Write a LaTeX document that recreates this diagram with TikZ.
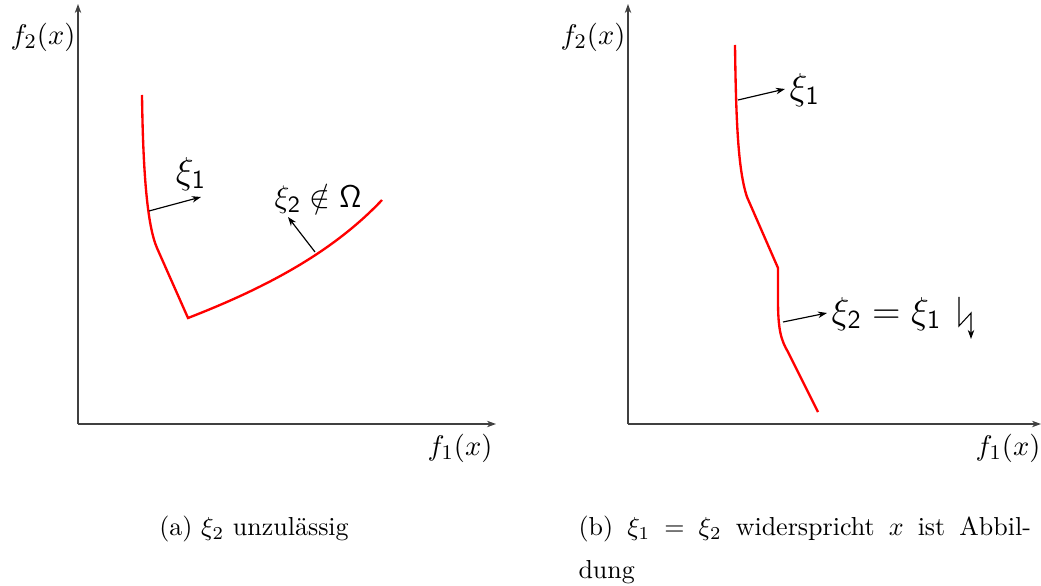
\documentclass[tikz,border=0pt]{standalone}
\usetikzlibrary{arrows.meta}
\begin{document}
\begin{tikzpicture}[x=0.3846pt,y=-0.3846pt,
  axis/.style={draw=black!75,line width=0.5pt,-{Stealth[length=3.5pt,width=2.5pt]}},
  curve/.style={draw=red,line width=0.9pt},
  ptr/.style={draw=black,line width=0.45pt,-{Stealth[length=3.5pt,width=2.5pt]}},
  lab/.style={inner sep=0pt,font=\Large},
  axlab/.style={inner sep=0pt,font=\fontsize{11}{13}\selectfont}]
\useasboundingbox (0,0) rectangle (1041,586);
% ---------- left plot ----------
\coordinate (o1) at (78,424);
\coordinate (ytop1) at (78,4);
\coordinate (xend1) at (496,424);
\draw[axis] (o1) -- (ytop1);
\draw[axis] (o1) -- (xend1);
\node[axlab] (f2a) at (43,37) {$f_2(x)$};
\node[axlab] (f1a) at (460,448) {$f_1(x)$};
\draw[curve] (142,95) .. controls (143,170) and (147,225) .. (157,248)
  -- (188,318) .. controls (260,290) and (330,255) .. (382,200);
\coordinate (p1) at (149,211);
\coordinate (q1) at (201,197);
\draw[ptr] (p1) -- (q1);
\node[lab] (xi1a) at (191,174) {$\xi_{\mathsf{1}}$};
\coordinate (p2) at (315,252);
\coordinate (q2) at (288,217);
\draw[ptr] (p2) -- (q2);
\node[inner sep=0pt,font=\fontsize{13}{15}\selectfont] (xi2a) at (318,199) {$\xi_{\mathsf{2}}\notin\mathsf{\Omega}$};
% ---------- right plot ----------
\coordinate (o2) at (628,424);
\coordinate (ytop2) at (628,4);
\coordinate (xend2) at (1041,424);
\draw[axis] (o2) -- (ytop2);
\draw[axis] (o2) -- (xend2);
\node[axlab] (f2b) at (593,37) {$f_2(x)$};
\node[axlab] (f1b) at (1008,448) {$f_1(x)$};
\draw[curve] (735,45) .. controls (736,120) and (738,170) .. (747,197)
  -- (778,268) -- (778,300) .. controls (778,330) and (781,340) .. (788,352)
  -- (818,412);
\coordinate (p3) at (738,100);
\coordinate (q3) at (785,89);
\draw[ptr] (p3) -- (q3);
\node[lab,anchor=west] (xi1b) at (789,90) {$\xi_{\mathsf{1}}$};
\coordinate (p4) at (783,322);
\coordinate (q4) at (827,313);
\draw[ptr] (p4) -- (q4);
\node[lab,anchor=west] (xi2b) at (831,314) {$\xi_{\mathsf{2}}=\xi_{\mathsf{1}}$};
% lightning
\coordinate (l1) at (959,297);
\coordinate (l2) at (959,326);
\coordinate (l3) at (971,313);
\coordinate (l4) at (971,339);
\draw[ptr,line width=0.4pt] (l1) -- (l2) -- (l3) -- (l4);
% ---------- captions ----------
\node[inner sep=0pt] (capa) at (254,529) {(a) $\xi_2$ unzulässig};
\node[inner sep=0pt,anchor=west] (capb1) at (578,529)
  {\hbox to 174pt{(b)\hfill$\xi_1$\hfill$=$\hfill$\xi_2$\hfill widerspricht\hfill$x$\hfill ist\hfill Abbil-}\strut};
\node[inner sep=0pt,anchor=west] (capb2) at (578,572) {dung\strut};
\end{tikzpicture}
\end{document}
